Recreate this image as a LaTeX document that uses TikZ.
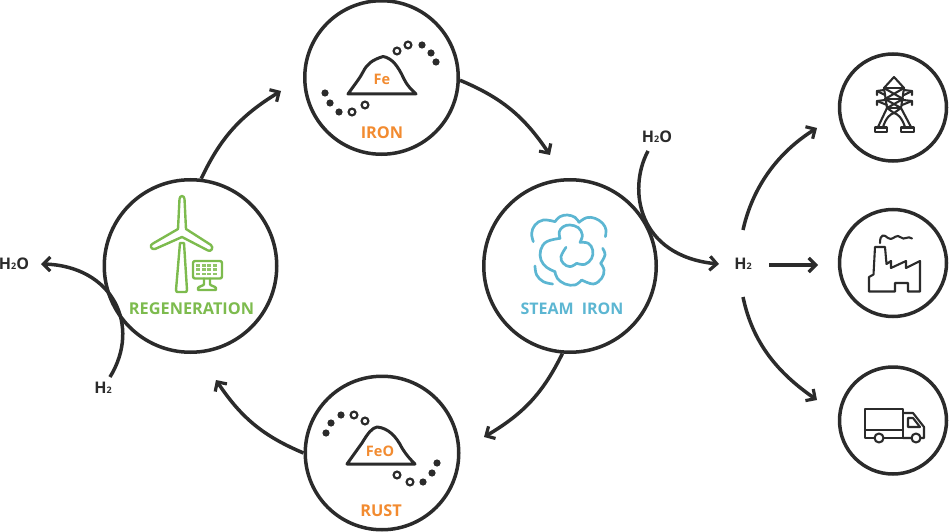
\documentclass[tikz,border=0pt]{standalone}
\usepackage{fontspec}
\setmainfont{Open Sans}
\usetikzlibrary{arrows.meta,bending}
\definecolor{ink}{HTML}{2B2B2B}
\definecolor{orng}{HTML}{F28B30}
\definecolor{grn}{HTML}{7DBB4E}
\definecolor{blu}{HTML}{5CB6D2}
\newcommand{\subtwo}{{\fontsize{9}{9}\selectfont 2}}
\tikzset{
 ring/.style={circle,draw=ink,line width=3.5pt,inner sep=0pt,minimum size=#1,fill=none},
 flow/.style={draw=ink,line width=3.5pt,-{Straight Barb[length=7pt,width=14pt,line width=3.2pt,flex]}},
 chem/.style={inner sep=0pt,text=ink,font=\fontsize{16}{16}\selectfont\bfseries},
 lab/.style={inner sep=0pt,font=\fontsize{16.3}{16.3}\selectfont\bfseries},
 pile/.style={draw=ink,line width=3pt,line join=round,line cap=round},
 dotf/.style={fill=ink,draw=none},
 doto/.style={draw=ink,line width=2.2pt,fill=white},
 wind/.style={draw=grn,line width=2.4pt,line join=round,line cap=round},
 cloud/.style={draw=blu,line width=2.7pt,line cap=round,line join=round},
 icon/.style={draw=ink,line width=2.1pt,line join=round,line cap=round},
}
\begin{document}
\begin{tikzpicture}[x=1pt,y=-1pt]
\useasboundingbox (0,0) rectangle (950,532);
% main rings
\node[ring=153.5pt] (iron) at (381.5,77.5) {};
\node[ring=172.5pt] (regen) at (190.5,266) {};
\node[ring=172.5pt] (steam) at (570,266) {};
\node[ring=153.5pt] (rust) at (382,453) {};
\node[ring=107pt] (power) at (893,107.5) {};
\node[ring=107pt] (factory) at (893,263) {};
\node[ring=107pt] (truck) at (893,420.5) {};
% free ends
\coordinate (ironIn) at (281,91);
\coordinate (steamIn) at (550,155);
\coordinate (rustIn) at (484,437);
\coordinate (regenIn) at (216,380);
\node[chem] (h2c) at (743,264) {H\subtwo};
\node[chem] (h2ot) at (657,137) {H\subtwo O};
\node[chem] (h2ol) at (14,264) {H\subtwo O};
\node[chem] (h2l) at (103,388) {H\subtwo};
\coordinate (inA) at (648,151);
\coordinate (inB) at (719,264);
\coordinate (outA) at (110,377);
\coordinate (outB) at (41,264);
\coordinate (upS) at (743,230);
\coordinate (upE) at (817,128);
\coordinate (midS) at (769,265);
\coordinate (midE) at (818,265);
\coordinate (dnS) at (743,297);
\coordinate (dnE) at (817,400);
% cycle arrows
\draw[flow] (regen.83) to[bend left=17] (ironIn);
\draw[flow] (iron.-2) to[bend left=17] (steamIn);
\draw[flow] (steam.265) to[bend left=17] (rustIn);
\draw[flow] (rust.180) to[bend left=17] (regenIn);
% side reactions
\draw[flow] (inA) .. controls (627,190) and (638,258) .. (inB);
\draw[flow] (outA) .. controls (142,325) and (112,264) .. (outB);
\draw[flow] (upS) .. controls (753,185) and (780,150) .. (upE);
\draw[flow] (midS) -- (midE);
\draw[flow] (dnS) .. controls (753,345) and (780,375) .. (dnE);
% labels
\node[lab,text=orng] (tiron) at (382,133) {IRON};
\node[lab,text=orng,font=\fontsize{14.5}{14.5}\selectfont\bfseries] (tfe) at (382,79) {Fe};
\node[lab,text=orng] (trust) at (381,511) {RUST};
\node[lab,text=orng,font=\fontsize{14.5}{14.5}\selectfont\bfseries] (tfeo) at (380,451) {FeO};
\node[lab,text=grn] (tregen) at (191.5,308.5) {REGENERATION};
\node[lab,text=blu,font=\fontsize{16}{16}\selectfont\bfseries] (tsteam) at (572,309) {STEAM\hspace{4pt} IRON};
% iron pile
\draw[pile] (348,94) .. controls (355,84) and (360,78) .. (363,72) .. controls (367,64) and (372,60) .. (383,56.5) .. controls (392,58) and (398,66) .. (404,79) .. controls (408,87) and (412,90) .. (416,94) -- cycle;
\foreach \x/\y in {397/51,408/45,365/105,352/112}{\draw[doto] (\x,\y) circle (3.4pt);}
\foreach \x/\y in {422/45,431/53,436/62,325/93,330/103,339/112}{\fill[dotf] (\x,\y) circle (3.6pt);}
% rust pile
\draw[pile] (347,464) -- (362,443) .. controls (368,433) and (372,428) .. (377,427) .. controls (388,428) and (396,436) .. (402,448) .. controls (407,456) and (411,460) .. (415,464) -- cycle;
\foreach \x/\y in {354/415,365/421,397/475,410/482}{\draw[doto] (\x,\y) circle (3.4pt);}
\foreach \x/\y in {326/433,331/423,341/415,423/482,432/473,437/463}{\fill[dotf] (\x,\y) circle (3.6pt);}
% wind turbine
\draw[wind] (178,229) -- (179.5,199) .. controls (180,195) and (184,195) .. (184.5,199) -- (186,229) -- (211,245) .. controls (214,248) and (211,252) .. (208,250.5) -- (182,237) -- (155,249) .. controls (151,250) and (149,245) .. (153,243.5) -- cycle;
\draw[wind] (180,243) -- (176,290) .. controls (176,292) and (177,292) .. (178,292) -- (185,292) .. controls (186,292) and (187,292) .. (187,290) -- (184,243) -- cycle;
% solar panel
\draw[wind,rounded corners=2pt] (193,261) rectangle (222,278.5);
\foreach \i in {0,1,2,3}{\foreach \j in {0,1,2}{\fill[grn!85] (196.2+\i*5.6,264.3+\j*4.1) rectangle +(3.9,2.7);}}
\draw[wind] (204,278.5) -- (204,284) .. controls (204,286) and (199,286) .. (198,288) -- (198,290) -- (216,290) -- (216,288) .. controls (215,286) and (210,286) .. (210,284) -- (210,278.5);
% steam cloud, in units of a third of a pixel
\begin{scope}[shift={(480,180)},x=.3333pt,y=-.3333pt]
\draw[cloud] plot[smooth,tension=.65] coordinates {(160,185)(155,160)(165,135)(190,120)(225,125)};
\draw[cloud] plot[smooth,tension=.65] coordinates {(225,125)(240,110)(262,105)(285,112)(297,127)};
\draw[cloud] plot[smooth,tension=.65] coordinates {(297,127)(320,113)(345,115)(368,130)(378,150)(376,170)};
\draw[cloud] plot[smooth,tension=.65] coordinates {(165,258)(170,285)(190,305)(218,312)};
\draw[cloud] plot[smooth,tension=.65] coordinates {(368,205)(375,225)(362,250)};
\draw[cloud] plot[smooth,tension=.65] coordinates {(362,250)(372,270)(365,295)(340,312)(305,300)};
\draw[cloud] plot[smooth,tension=.65] coordinates {(305,300)(285,315)(255,312)(232,295)(225,275)};
\draw[cloud] plot[smooth,tension=.65] coordinates {(225,275)(200,262)(183,240)(182,210)(200,185)(240,175)};
\draw[cloud] plot[smooth,tension=.65] coordinates {(240,175)(238,155)(250,140)(270,135)(295,143)(307,165)(300,187)};
\draw[cloud] plot[smooth,tension=.65] coordinates {(300,187)(325,190)(338,210)(335,235)(315,253)(290,250)};
\draw[cloud] plot[smooth,tension=.65] coordinates {(290,250)(270,260)(250,250)(243,230)(258,202)};
\end{scope}
% pylon
\draw[icon] (894,77) -- (884,88) -- (887,108) -- (878,127) (894,77) -- (904,88) -- (901,108) -- (911,127);
\draw[icon] (884,88) -- (904,88) (885,99) -- (903,99) (887,108) -- (901,108);
\draw[icon] (884,88) -- (903,99) (904,88) -- (885,99) (885,99) -- (901,108) (903,99) -- (887,108);
\draw[icon] (884,90) -- (877,91) -- (877,95) (904,90) -- (912,91) -- (912,95) (885,100) -- (877,101) -- (877,105) (903,100) -- (912,101) -- (912,105);
\draw[icon] (877,91) -- (885,95) (912,91) -- (904,95) (877,101) -- (887,105) (912,101) -- (902,105);
\draw[icon] (883,127) .. controls (886,118) and (890,114) .. (894,113) .. controls (898,114) and (902,118) .. (905,127);
\draw[icon] (887,108) -- (894,113) -- (901,108);
\draw[icon] (875,127.5) rectangle (887,132) (901,127.5) rectangle (914,132);
% factory
\draw[icon] (869,291.5) -- (869,277) -- (873.5,274.5) -- (875,247) -- (885,247) -- (886.5,264) -- (891,261) -- (891,268) -- (906,261) -- (906,268) -- (920,261) -- (920,291.5) -- (908,291.5) -- (908,283) -- (895,283) -- (895,291.5) -- cycle;
\draw[icon] (880,243) .. controls (880,234) and (884,234) .. (888,238) .. controls (892,241) and (894,236) .. (898,236) .. controls (901,236) and (902,240) .. (906,238) .. controls (908,237) and (910,237) .. (912,238.5);
% truck
\draw[icon] (903,438) -- (865,438) -- (865,409) -- (903,409) -- cycle (865,430) -- (903,430);
\draw[icon] (903,413) -- (913,413) -- (924,427) -- (924,438) -- (903,438);
\draw[icon] (908,418) -- (913,418) -- (920,427) -- (908,427) -- cycle;
\draw[icon,fill=white] (879,438) circle (4.5pt) (916,438) circle (4.5pt);
\end{tikzpicture}
\end{document}
